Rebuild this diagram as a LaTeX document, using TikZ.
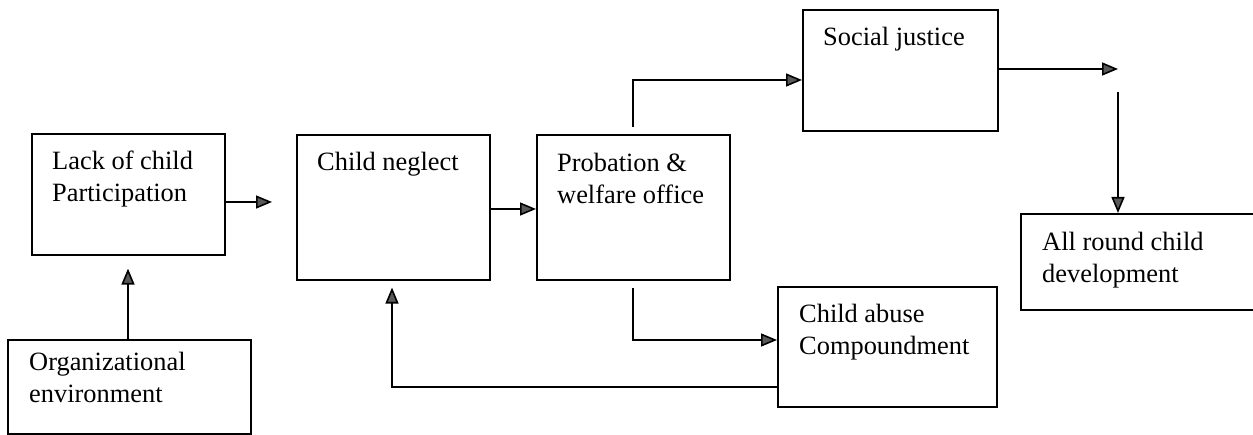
\documentclass[tikz,border=0pt]{standalone}
\usepackage{fontspec}
\setmainfont{Liberation Serif}
\usetikzlibrary{arrows.meta}
\tikzset{
  box/.style={draw, line width=1.6pt, rectangle, inner sep=0pt, anchor=north west},
  txt/.style={anchor=north west, inner sep=0pt, align=left, font=\fontsize{26.4}{32}\selectfont},
  arr/.style={line width=1.6pt, -{Triangle[length=16pt,width=13pt,fill=black!65]}},
}
\begin{document}
\begin{tikzpicture}[x=1pt,y=-1pt]
\useasboundingbox (0,0) rectangle (1253,435);
\clip (0,0) rectangle (1253,435);
% boxes
\node[box, minimum width=193pt, minimum height=121pt] (lack) at (31,133) {};
\node[box, minimum width=243pt, minimum height=94pt] (org) at (7,339) {};
\node[box, minimum width=193pt, minimum height=145pt] (neglect) at (296,134) {};
\node[box, minimum width=193pt, minimum height=145pt] (prob) at (536,134) {};
\node[box, minimum width=195pt, minimum height=121pt] (social) at (802,9) {};
\node[box, minimum width=219pt, minimum height=120pt] (abuse) at (777,286) {};
\node[box, minimum width=260pt, minimum height=96pt] (allr) at (1020,213) {};
% texts
\node[txt] (tlack) at ([shift={(21pt,-18pt)}]lack.north west) {Lack of child\\Participation};
\node[txt] (torg) at ([shift={(22pt,-13pt)}]org.north west) {Organizational\\environment};
\node[txt] (tneglect) at ([shift={(21pt,-18pt)}]neglect.north west) {Child neglect};
\node[txt] (tprob) at ([shift={(21pt,-19pt)}]prob.north west) {Probation \&\\welfare office};
\node[txt] (tsocial) at ([shift={(21pt,-18pt)}]social.north west) {Social justice};
\node[txt] (tabuse) at ([shift={(22pt,-18pt)}]abuse.north west) {Child abuse\\Compoundment};
\node[txt] (tallr) at ([shift={(22pt,-19pt)}]allr.north west) {All round child\\development};
% connectors
\coordinate (fr) at (1118,69);
\draw[arr, shorten >=24pt] (lack.east |- 0,202) -- (neglect.west |- 0,202);
\draw[arr, shorten >=13pt] (org.north -| 128,0) -- (lack.south -| 128,0);
\draw[arr] (neglect.east |- 0,209) -- (prob.west |- 0,209);
\draw[arr, shorten <=7pt] (prob.north -| 633,0) |- (social.west |- 0,80);
\draw[arr, shorten <=7pt] (prob.south -| 633,0) |- (abuse.west |- 0,340);
\draw[arr, shorten >=7pt] (abuse.west |- 0,387) -| (neglect.south -| 392,0);
\draw[arr] (social.east |- fr) -- (fr);
\draw[arr, shorten <=23pt] (fr) -- (allr.north -| fr);
\end{tikzpicture}
\end{document}
